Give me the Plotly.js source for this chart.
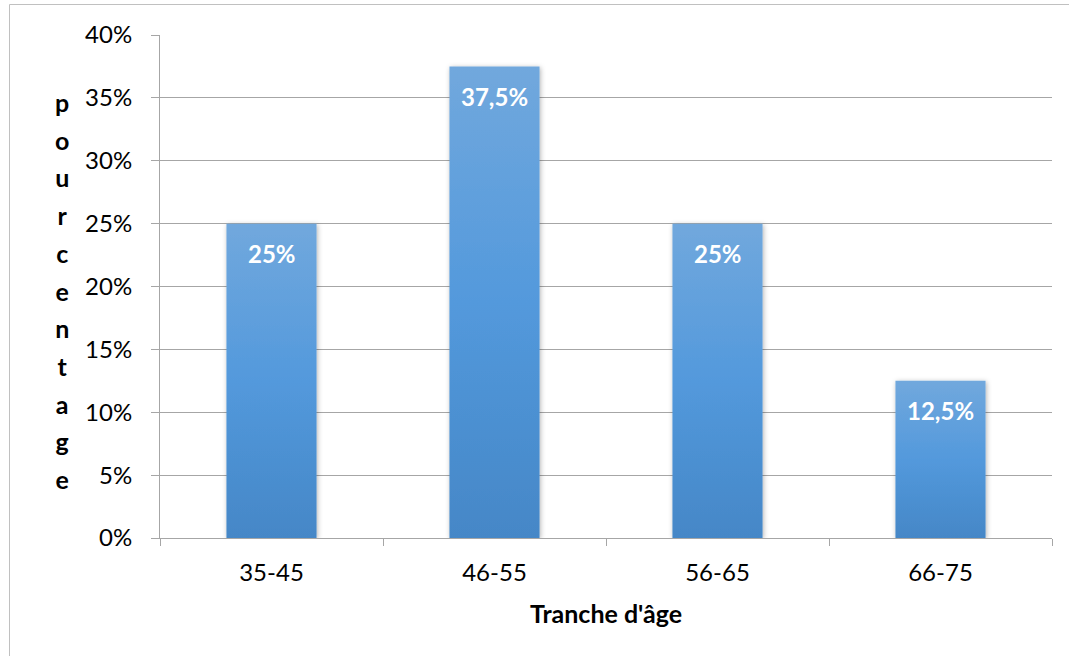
<!DOCTYPE html>
<html>
<head>
<meta charset="utf-8">
<script src="https://cdn.plot.ly/plotly-3.0.1.min.js"></script>
<style>
html,body{margin:0;padding:0;background:#fff;}
#chart{width:1069px;height:656px;}
</style>
</head>
<body>
<div id="chart"></div>
<script>
const categories = ['35-45', '46-55', '56-65', '66-75'];
const values = [0.25, 0.375, 0.25, 0.125];
const yTitleLetters = 'pourcentage';
const xTitle = "Tranche d'âge";
const yTickVals = [0, 0.05, 0.10, 0.15, 0.20, 0.25, 0.30, 0.35, 0.40];
const yTickText = ['0%', '5%', '10%', '15%', '20%', '25%', '30%', '35%', '40%'];

const FONT = 'Lato, Calibri, Carlito, "Open Sans", sans-serif';
const GRID = '#a6a6a6';

function fmt(v) {
  return String(Math.round(v * 1000) / 10).replace('.', ',') + '%';
}

const trace = {
  type: 'bar',
  x: categories,
  y: values,
  marker: {color: '#5599db', line: {width: 0}},
  hoverinfo: 'none'
};

const labelAnnotations = categories.map((c, i) => ({
  x: c, y: values[i], xref: 'x', yref: 'y',
  text: '<b>' + fmt(values[i]) + '</b>',
  showarrow: false, xanchor: 'center', yanchor: 'middle', yshift: -30,
  font: {family: FONT, size: 24, color: '#ffffff'}
}));

const yTitleText = yTitleLetters.split('').map(ch => '<span style="font-size:25px"><b>' + ch + '</b></span>').join('<br>');

const layout = {
  width: 1069, height: 656,
  margin: {l: 160, r: 17, t: 35, b: 118},
  paper_bgcolor: '#ffffff', plot_bgcolor: '#ffffff',
  font: {family: FONT, size: 24, color: '#000000'},
  bargap: 0.596,
  showlegend: false,
  xaxis: {
    type: 'category',
    showgrid: false,
    showline: true, linecolor: GRID, linewidth: 1,
    ticks: 'outside', tickson: 'boundaries', ticklen: 7, tickcolor: GRID, tickwidth: 1,
    ticklabelstandoff: 13,
    tickfont: {family: FONT, size: 24, color: '#000'},
    title: {text: '<b>' + xTitle + '</b>', font: {family: FONT, size: 25, color: '#000'}, standoff: 20},
    fixedrange: true
  },
  yaxis: {
    range: [0, 0.4],
    tickvals: yTickVals, ticktext: yTickText,
    showgrid: true, gridcolor: GRID, gridwidth: 1,
    showline: true, linecolor: GRID, linewidth: 1,
    zeroline: false,
    ticks: 'outside', ticklen: 8, tickcolor: GRID, tickwidth: 1,
    ticklabelstandoff: 14,
    tickfont: {family: FONT, size: 24, color: '#000'},
    fixedrange: true
  },
  annotations: labelAnnotations.concat([{
    xref: 'paper', yref: 'paper',
    x: (62 - 160) / 892, y: (538 - 290.5) / 503,
    xanchor: 'center', yanchor: 'middle',
    text: yTitleText, showarrow: false, align: 'center',
    font: {family: FONT, size: 29, color: '#000'}
  }]),
  shapes: [{
    type: 'rect', xref: 'paper', yref: 'paper', layer: 'below',
    x0: (9.5 - 160) / 892, x1: (1080 - 160) / 892,
    y0: (538 - 670) / 503, y1: (538 - 4.5) / 503,
    line: {color: '#c0c0c0', width: 1}, fillcolor: 'rgba(0,0,0,0)'
  }]
};

Plotly.newPlot('chart', [trace], layout, {staticPlot: true, displayModeBar: false}).then(gd => {
  const svg = gd.querySelector('svg.main-svg');
  const NS = 'http://www.w3.org/2000/svg';
  let defs = svg.querySelector('defs');
  if (!defs) { defs = document.createElementNS(NS, 'defs'); svg.insertBefore(defs, svg.firstChild); }
  const grad = document.createElementNS(NS, 'linearGradient');
  grad.setAttribute('id', 'barGrad');
  grad.setAttribute('x1', '0'); grad.setAttribute('y1', '0');
  grad.setAttribute('x2', '0'); grad.setAttribute('y2', '1');
  [['0%', '#71a8dd'], ['50%', '#5399dc'], ['100%', '#4587c7']].forEach(([o, c]) => {
    const s = document.createElementNS(NS, 'stop');
    s.setAttribute('offset', o); s.setAttribute('stop-color', c);
    grad.appendChild(s);
  });
  defs.appendChild(grad);
  const filt = document.createElementNS(NS, 'filter');
  filt.setAttribute('id', 'barShadow');
  filt.setAttribute('x', '-20%'); filt.setAttribute('y', '-10%');
  filt.setAttribute('width', '140%'); filt.setAttribute('height', '120%');
  const ds = document.createElementNS(NS, 'feDropShadow');
  ds.setAttribute('dx', '1'); ds.setAttribute('dy', '1');
  ds.setAttribute('stdDeviation', '2.5'); ds.setAttribute('flood-color', '#000');
  ds.setAttribute('flood-opacity', '0.3');
  filt.appendChild(ds);
  defs.appendChild(filt);
  gd.querySelectorAll('.barlayer .point path').forEach(p => {
    p.style.fill = 'url(#barGrad)';
    p.setAttribute('filter', 'url(#barShadow)');
  });
});
</script>
</body>
</html>
